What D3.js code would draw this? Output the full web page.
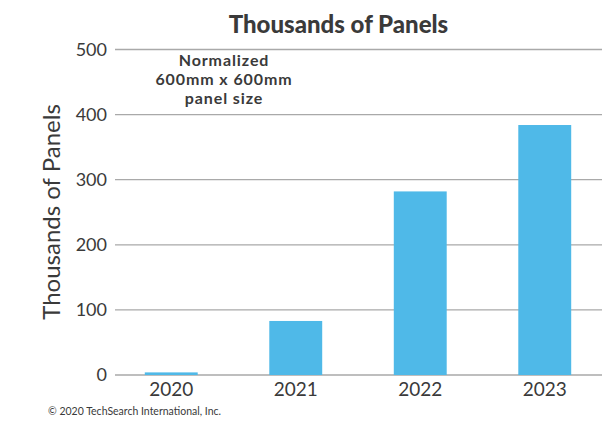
<!DOCTYPE html>
<html>
<head>
<meta charset="utf-8">
<script src="https://cdn.jsdelivr.net/npm/d3@7"></script>
<style>
  html, body { margin: 0; padding: 0; background: #fff; }
  svg { display: block; font-family: Lato, "Open Sans", sans-serif; }
</style>
</head>
<body>
<svg id="chart" width="602" height="422"></svg>
<script>
const categories = ["2020", "2021", "2022", "2023"];
const values = [4, 83, 282, 384];
const yTicks = [0, 100, 200, 300, 400, 500];
const title = "Thousands of Panels";
const yLabel = "Thousands of Panels";
const note = ["Normalized", "600mm x 600mm", "panel size"];
const copyright = "© 2020 TechSearch International, Inc.";

const svg = d3.select("#chart");
const textColor = "#3a3a3a";

const x = d3.scaleBand().domain(categories).range([109, 607]).paddingInner(0.575).paddingOuter(0.2875);
const y = d3.scaleLinear().domain([0, 500]).range([375, 49.5]);

// gridlines
svg.append("g").selectAll("line").data(yTicks).join("line")
  .attr("x1", 115).attr("x2", 602)
  .attr("y1", d => y(d)).attr("y2", d => y(d))
  .attr("stroke", "#a9a9a9").attr("stroke-width", 1.3);

// y axis labels
const yAxis = d3.axisLeft(y).tickValues(yTicks).tickSize(0).tickPadding(0);
const gy = svg.append("g").attr("transform", "translate(107,0)").call(yAxis);
gy.select(".domain").remove();
gy.selectAll("text").attr("font-size", 18).attr("fill", textColor)
  .attr("font-family", "Lato, sans-serif");

// bars
svg.append("g").selectAll("rect").data(values).join("rect")
  .attr("x", (d, i) => x(categories[i]))
  .attr("width", x.bandwidth())
  .attr("y", d => y(d))
  .attr("height", d => y(0) - y(d))
  .attr("fill", "#4fb9e8");

// x axis labels
const xAxis = d3.axisBottom(x).tickSize(0).tickPadding(0);
const gx = svg.append("g").attr("transform", "translate(0,382)").call(xAxis);
gx.select(".domain").remove();
gx.selectAll("text").attr("font-size", 19).attr("fill", textColor)
  .attr("font-family", "Lato, sans-serif");

// title
svg.append("text").attr("x", 338.5).attr("y", 33).attr("text-anchor", "middle")
  .attr("font-size", 24).attr("font-weight", 900).attr("fill", textColor)
  .text(title);

// y label
svg.append("text").attr("transform", "translate(60,212) rotate(-90)")
  .attr("text-anchor", "middle").attr("font-size", 24).attr("fill", textColor)
  .text(yLabel);

// annotation
svg.append("text").attr("text-anchor", "middle").attr("font-size", 16)
  .attr("letter-spacing", 0.9)
  .attr("font-weight", 700).attr("fill", textColor)
  .selectAll("tspan").data(note).join("tspan")
  .attr("x", 224).attr("y", (d, i) => 66 + i * 19).text(d => d);

// copyright
svg.append("text").attr("x", 48).attr("y", 415).attr("font-size", 10.5)
  .attr("fill", textColor).text(copyright);
</script>
</body>
</html>
